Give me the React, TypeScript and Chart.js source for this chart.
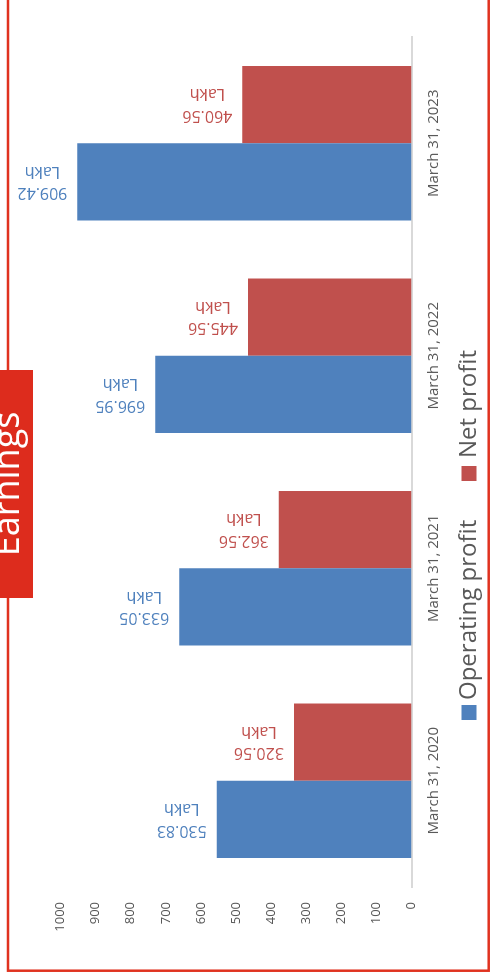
import { useEffect, useRef } from "react";
import { Chart, registerables } from "chart.js";

Chart.register(...registerables);

// ---- data ----
const categories = ["March 31, 2020", "March 31, 2021", "March 31, 2022", "March 31, 2023"];
const seriesNames = ["Operating profit", "Net profit"];
// bar lengths
const operatingProfit = [555, 662, 730, 952];
const netProfit = [335, 378, 466, 482];
// data label texts as printed on the chart
const operatingLabels = ["530.83", "633.05", "696.95", "909.42"];
const netLabels = ["320.56", "362.56", "445.56", "460.56"];
const labelUnit = "Lakh";
const titleText = "Earnings";
const axisMin = 0;
const axisMax = 1000;
const axisStep = 100;

const BLUE = "#4f81bd";
const RED = "#c0504d";
const TITLE_RED = "#dd2c1d";
const BORDER_RED = "#e0321f";
const TEXT_GRAY = "#595959";
const FONT = "'Open Sans', 'DejaVu Sans', sans-serif";

const W = 977;
const H = 495;

const decorPlugin = {
  id: "decor",
  beforeDraw(chart: any) {
    const ctx = chart.ctx;
    ctx.save();
    ctx.fillStyle = "#ffffff";
    ctx.fillRect(0, 0, W, H);
    ctx.strokeStyle = BORDER_RED;
    ctx.lineWidth = 2.5;
    ctx.strokeRect(6.3, 8, 1000, 480.7);
    ctx.restore();
  },
  afterDatasetsDraw(chart: any) {
    const ctx = chart.ctx;
    const labelSets = [operatingLabels, netLabels];
    ctx.save();
    ctx.font = `16px ${FONT}`;
    ctx.textAlign = "center";
    ctx.textBaseline = "middle";
    chart.data.datasets.forEach((ds: any, i: number) => {
      const meta = chart.getDatasetMeta(i);
      ctx.fillStyle = ds.backgroundColor;
      meta.data.forEach((el: any, j: number) => {
        const lines = [labelSets[i][j], labelUnit];
        const w = Math.max(...lines.map((t) => ctx.measureText(t).width));
        const cy = el.y - 10 - w / 2;
        ctx.save();
        ctx.translate(el.x, cy);
        ctx.rotate(-Math.PI / 2);
        const lh = 21.5;
        lines.forEach((t, k) => {
          ctx.fillText(t, 0, (k - (lines.length - 1) / 2) * lh);
        });
        ctx.restore();
      });
    });
    ctx.restore();
  },
  afterDraw(chart: any) {
    const ctx = chart.ctx;
    ctx.save();
    // title box
    ctx.fillStyle = TITLE_RED;
    ctx.fillRect(379, -10, 228, 43);
    ctx.fillStyle = "#ffffff";
    ctx.font = `36px ${FONT}`;
    ctx.textAlign = "center";
    ctx.textBaseline = "alphabetic";
    ctx.fillText(titleText, 493, 19);
    // legend
    const items = [
      { x: 257, tx: 277 },
      { x: 496, tx: 519 },
    ];
    ctx.font = `24px ${FONT}`;
    ctx.textAlign = "left";
    chart.data.datasets.forEach((ds: any, i: number) => {
      const it = items[i];
      ctx.fillStyle = ds.backgroundColor;
      ctx.fillRect(it.x, 461.5, 15, 15);
      ctx.fillStyle = TEXT_GRAY;
      ctx.fillText(ds.label, it.tx, 475.5);
    });
    ctx.restore();
  },
};

export default function App() {
  const ref = useRef<HTMLCanvasElement | null>(null);

  useEffect(() => {
    if (!ref.current) return;
    const chart = new Chart(ref.current, {
      type: "bar",
      data: {
        labels: categories,
        datasets: [
          {
            label: seriesNames[0],
            data: operatingProfit,
            backgroundColor: BLUE,
            borderWidth: 0,
            categoryPercentage: 0.727,
            barPercentage: 1,
          },
          {
            label: seriesNames[1],
            data: netProfit,
            backgroundColor: RED,
            borderWidth: 0,
            categoryPercentage: 0.727,
            barPercentage: 1,
          },
        ],
      },
      options: {
        responsive: false,
        maintainAspectRatio: false,
        animation: false,
        devicePixelRatio: 1,
        layout: { padding: { left: 0, right: 37, top: 60.5, bottom: 0 } },
        plugins: {
          legend: { display: false },
          title: { display: false },
          tooltip: { enabled: false },
        },
        scales: {
          x: {
            grid: { display: false, drawTicks: false },
            border: { display: true, color: "#d9d9d9", width: 2 },
            ticks: {
              font: { family: FONT, size: 15 },
              color: TEXT_GRAY,
              padding: 13,
              maxRotation: 0,
              minRotation: 0,
            },
            afterFit: (s: any) => {
              s.height = 83.5;
            },
          },
          y: {
            min: axisMin,
            max: axisMax,
            ticks: {
              stepSize: axisStep,
              font: { family: FONT, size: 13 },
              color: TEXT_GRAY,
              padding: 15,
              callback: (v: any) => String(v),
            },
            grid: { display: false, drawTicks: false },
            border: { display: false },
            afterFit: (s: any) => {
              s.width = 90;
            },
          },
        },
      },
      plugins: [decorPlugin],
    });
    return () => chart.destroy();
  }, []);

  return (
    <div
      style={{
        position: "fixed",
        left: 0,
        top: 0,
        width: H,
        height: W,
        overflow: "hidden",
        background: "#fff",
      }}
    >
      <div
        style={{
          position: "absolute",
          left: 0,
          top: 0,
          width: W,
          height: H,
          transformOrigin: "0 0",
          transform: `translate(0px, ${W}px) rotate(-90deg)`,
        }}
      >
        <canvas
          ref={ref}
          width={W}
          height={H}
          style={{ width: W, height: H, display: "block" }}
        />
      </div>
    </div>
  );
}
